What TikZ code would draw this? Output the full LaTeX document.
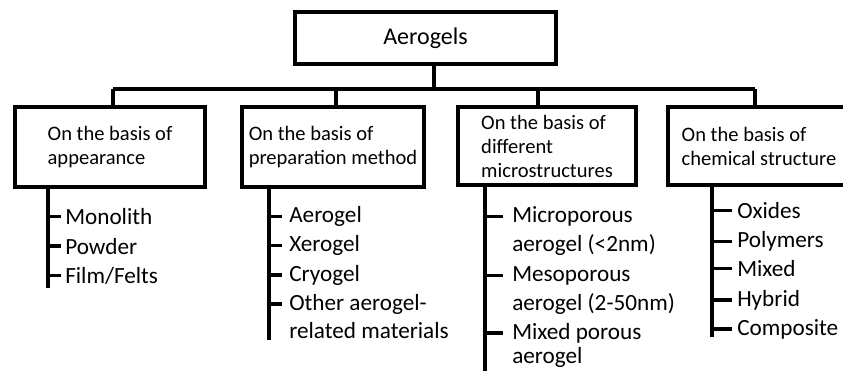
\documentclass[tikz,border=0pt]{standalone}
\usepackage{fontspec}
\setmainfont{Carlito}
\usepackage{tikz}
\tikzset{
	catbox/.style={draw, line width=3pt, align=left, inner sep=0pt, font=\fontsize{15.4}{18}\selectfont},
	item/.style={anchor=base west, inner ysep=1pt, font=\fontsize{17.4}{21}\selectfont},
	wire/.style={line width=2.6pt}
}

\begin{document}
\begin{tikzpicture}[x=0.75pt, y=-0.75pt]
			%%%%% START %%%%%
			\useasboundingbox (0, 0) rectangle (843, 371);
			
			\node[draw, line width=3pt, minimum width=195.75pt, minimum height=39pt, font=\fontsize{18}{21}\selectfont] (top) at (425.5, 38) {Aerogels};
			
			\node[catbox, minimum width=142.5pt, minimum height=60pt] (appear) at (110, 147) {On the basis of\\appearance};
			\node[catbox, minimum width=136.5pt, minimum height=60pt] (prep) at (333, 147) {On the basis of\\preparation method};
			\node[catbox, minimum width=133.5pt, minimum height=58.5pt] (micro) at (547, 146) {On the basis of\\different\\microstructures};
			\node[catbox, minimum width=136.5pt, minimum height=58.5pt] (chem) at (759, 146) {On the basis of\\chemical structure};
			
			\coordinate (hub) at (434, 89);
			\coordinate (d1) at (113, 89);
			\coordinate (d2) at (336, 89);
			\coordinate (d3) at (538, 89);
			\coordinate (d4) at (755, 89);
			\draw[wire] (top.south -| hub) -- (hub);
			\draw[wire] (d1) -- (d4);
			\foreach \d/\b in {d1/appear, d2/prep, d3/micro, d4/chem}
				\draw[wire] (\d) -- (\d |- \b.north);
			
			\coordinate (s1) at (48, 288);
			\coordinate (s2) at (269, 340);
			\coordinate (s3) at (485, 375);
			\coordinate (s4) at (712, 337);
			\draw[wire] (appear.south -| s1) -- (s1);
			\draw[wire] (prep.south -| s2) -- (s2);
			\draw[wire] (micro.south -| s3) -- (s3);
			\draw[wire] (chem.south -| s4) -- (s4);
			
			\begin{scope}[every node/.style={item, inner xsep=3pt}]
				\node (mono) at (61, 224.5) {Monolith};
				\node (powder) at (61, 254) {Powder};
				\node (film) at (61, 283) {Film/Felts};
			\end{scope}
			\begin{scope}[every node/.style={item, inner xsep=5.25pt}]
				\node (aero) at (282, 222.7) {Aerogel};
				\node (xero) at (282, 251.7) {Xerogel};
				\node (cryo) at (282, 281) {Cryogel};
				\node (other) at (282, 310) {Other aerogel-};
				\node (otherb) at (282, 338) {related materials};
			\end{scope}
			\begin{scope}[every node/.style={item, inner xsep=6.75pt}]
				\node (mip) at (503, 222.7) {Microporous};
				\node (mipb) at (503, 251.7) {aerogel (<2nm)};
				\node (mes) at (503, 281) {Mesoporous};
				\node (mesb) at (503, 310) {aerogel (2-50nm)};
				\node (mix) at (503, 339) {Mixed porous};
				\node (mixb) at (503, 363) {aerogel};
			\end{scope}
			\begin{scope}[every node/.style={item, inner xsep=3.75pt}]
				\node (oxi) at (732, 218.3) {Oxides};
				\node (poly) at (732, 247.7) {Polymers};
				\node (mixd) at (732, 276.7) {Mixed};
				\node (hyb) at (732, 306) {Hybrid};
				\node (comp) at (732, 335) {Composite};
			\end{scope}
			
			\foreach \n in {mono, powder, film}
				\draw[wire] (s1 |- \n.west) -- (\n.west);
			\foreach \n in {aero, xero, cryo, other}
				\draw[wire] (s2 |- \n.west) -- (\n.west);
			\foreach \n in {mip, mes, mix}
				\draw[wire] (s3 |- \n.west) -- (\n.west);
			\foreach \n in {oxi, poly, mixd, hyb, comp}
				\draw[wire] (s4 |- \n.west) -- (\n.west);
			
			%%%%% END %%%%%
		\end{tikzpicture}
\end{document}
